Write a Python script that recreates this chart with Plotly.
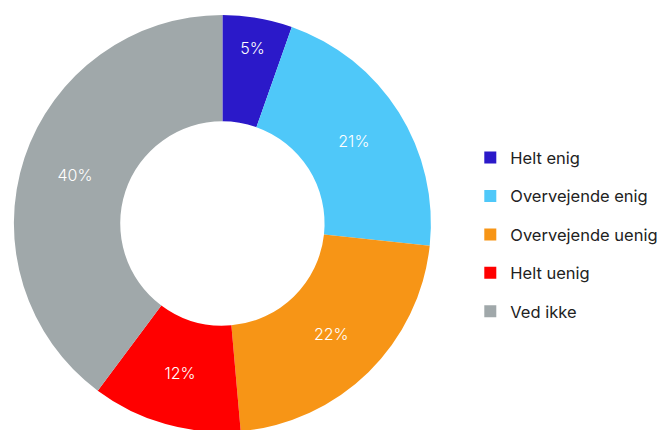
import plotly.graph_objects as go

# Survey answers (share of respondents, %)
categories = ["Helt enig", "Overvejende enig", "Overvejende uenig", "Helt uenig", "Ved ikke"]
shares = [5.4, 21.3, 21.9, 11.6, 39.8]
colors = ["#2b19c9", "#4fc8f9", "#f79516", "#ff0000", "#a0a8aa"]

FONT = "Inter"

fig = go.Figure()

fig.add_trace(
    go.Pie(
        labels=categories,
        values=shares,
        hole=0.49,
        sort=False,
        direction="clockwise",
        rotation=0,
        marker={"colors": colors, "line": {"width": 0}},
        texttemplate="%{percent:.0%}",
        textposition="inside",
        insidetextorientation="horizontal",
        textfont={"family": FONT, "size": 16, "color": "white", "weight": 300},
        domain={"x": [0, 0.64], "y": [0, 1]},
        showlegend=False,
    )
)

# Legend entries (pie legend can't be spaced out, so use placeholder traces)
for name, color in zip(categories, colors):
    fig.add_trace(
        go.Scatter(
            x=[None],
            y=[None],
            mode="markers",
            name=name,
            legendgroup=name,
            marker={"symbol": "square", "size": 12, "color": color},
        )
    )

fig.update_layout(
    width=670,
    height=430,
    margin={"l": 0, "r": 0, "t": 7, "b": 6},
    paper_bgcolor="white",
    plot_bgcolor="white",
    xaxis={"visible": False},
    yaxis={"visible": False},
    showlegend=True,
    legend={
        "x": 0.69,
        "y": 0.473,
        "xanchor": "left",
        "yanchor": "middle",
        "traceorder": "grouped",
        "tracegroupgap": 14,
        "itemwidth": 30,
        "font": {"family": FONT, "size": 16.5, "color": "#222222"},
    },
)

fig.write_html("out.html")
